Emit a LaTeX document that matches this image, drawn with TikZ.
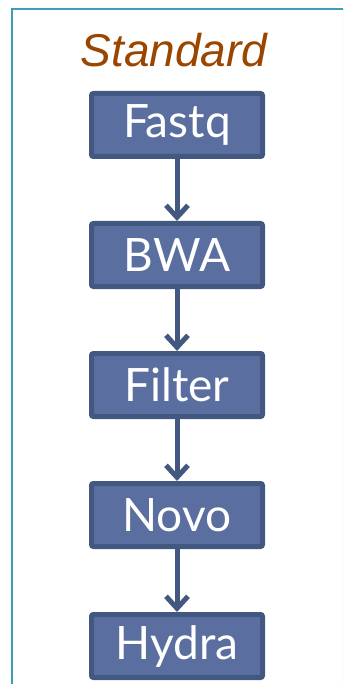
\documentclass[tikz,border=0pt]{standalone}
\usepackage{fontspec}
\setmainfont{Lato}
\newfontfamily\titlefont{Liberation Sans}
\usetikzlibrary{arrows.meta}
\definecolor{boxfill}{HTML}{5A6FA0}
\definecolor{boxline}{HTML}{425880}
\definecolor{framecol}{HTML}{3A9FB5}
\definecolor{titlecol}{HTML}{9A4500}
\tikzset{
  stepbox/.style={draw=boxline, fill=boxfill, line width=5pt, rounded corners=2pt,
    minimum width=171pt, minimum height=63pt, inner sep=0pt,
    text=white, font=\fontsize{46}{46}\selectfont},
  flow/.style={draw=boxline, line width=5pt,
    -{Straight Barb[length=12pt,width=22pt,line width=5pt]}}
}
\begin{document}
\begin{tikzpicture}[x=1pt,y=-1pt]
\useasboundingbox (0,0) rectangle (343,684);
\begin{scope}
\clip (0,0) rectangle (343,684);
\fill[black!12] (13,10) rectangle (370,710);
\fill[white] (12,9) rectangle (370,710);
\draw[framecol, line width=1.8pt] (12,9) rectangle (370,710);
\end{scope}
\node[text=titlecol, font=\titlefont\itshape\fontsize{46}{46}\selectfont] (title) at (174,50) {Standard};
\node[stepbox] (fastq) at (177,125) {Fastq};
\node[stepbox] (bwa) at (177,255) {BWA};
\node[stepbox] (filter) at (177,385) {Filter};
\node[stepbox] (novo) at (177,515) {Novo};
\node[stepbox] (hydra) at (177,646) {Hydra};
\draw[flow] (fastq) -- (bwa);
\draw[flow] (bwa) -- (filter);
\draw[flow] (filter) -- (novo);
\draw[flow] (novo) -- (hydra);
\end{tikzpicture}
\end{document}
